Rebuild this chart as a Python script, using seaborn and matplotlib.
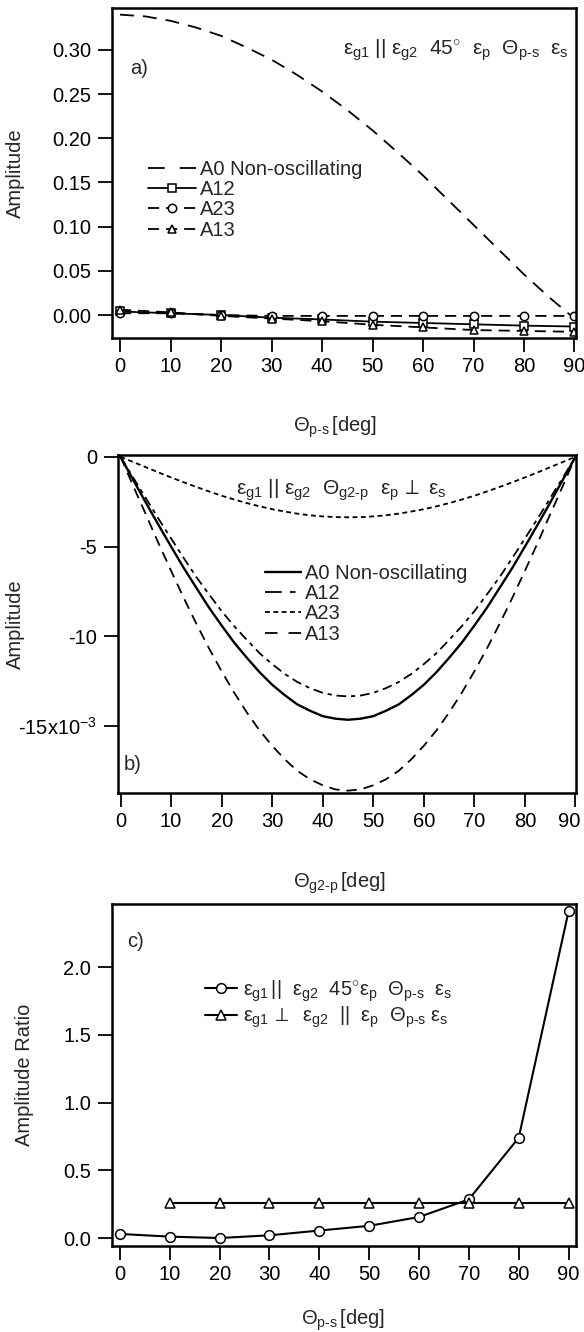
import matplotlib
matplotlib.use("Agg")
import matplotlib.pyplot as plt
import matplotlib.transforms as mtransforms
import seaborn as sns

# ---------------- data ----------------
# Panel a: amplitudes vs Theta_p-s
theta_a = [0, 10, 20, 30, 40, 50, 60, 70, 80, 90]
theta_a0 = [0, 5, 10, 15, 20, 25, 30, 35, 40, 45, 50, 55, 60, 65, 70, 75, 80, 85, 90]
a0_a = [0.340, 0.338, 0.333, 0.3255, 0.316, 0.303, 0.289, 0.272, 0.253, 0.232,
        0.209, 0.184, 0.158, 0.130, 0.102, 0.074, 0.046, 0.020, -0.004]
a12_a = [0.004, 0.002, 0.000, -0.003, -0.005, -0.0075, -0.009, -0.0105, -0.012, -0.013]
a23_a = [0.002, 0.002, 0.000, -0.001, -0.001, -0.001, -0.001, -0.001, -0.001, -0.001]
a13_a = [0.006, 0.003, -0.001, -0.004, -0.007, -0.011, -0.014, -0.017, -0.018, -0.019]

# Panel b: amplitudes (x1e-3) vs Theta_g2-p
theta_b = [0, 2.5, 5, 7.5, 10, 12.5, 15, 17.5, 20, 22.5, 25, 27.5, 30, 32.5, 35,
           37.5, 40, 42.5, 45, 47.5, 50, 52.5, 55, 57.5, 60, 62.5, 65, 67.5, 70,
           72.5, 75, 77.5, 80, 82.5, 85, 87.5, 90]
a0_b = [0, -1.28, -2.55, -3.79, -5.0, -6.19, -7.3, -8.40, -9.4, -10.36, -11.2,
        -12.0, -12.7, -13.28, -13.8, -14.15, -14.45, -14.59, -14.65, -14.59,
        -14.45, -14.15, -13.8, -13.28, -12.7, -12.0, -11.2, -10.36, -9.4, -8.40,
        -7.3, -6.19, -5.0, -3.79, -2.55, -1.28, 0]
a12_b = [0, -1.16, -2.3, -3.45, -4.55, -5.64, -6.7, -7.66, -8.6, -9.44, -10.2,
         -10.94, -11.55, -12.10, -12.55, -12.89, -13.15, -13.30, -13.35, -13.30,
         -13.15, -12.89, -12.55, -12.10, -11.55, -10.94, -10.2, -9.44, -8.6,
         -7.66, -6.7, -5.64, -4.55, -3.45, -2.3, -1.16, 0]
a23_b = [0, -0.29, -0.58, -0.87, -1.15, -1.42, -1.68, -1.93, -2.17, -2.38, -2.58,
         -2.76, -2.92, -3.05, -3.17, -3.26, -3.32, -3.36, -3.37, -3.36, -3.32,
         -3.26, -3.17, -3.05, -2.92, -2.76, -2.58, -2.38, -2.17, -1.93, -1.68,
         -1.42, -1.15, -0.87, -0.58, -0.29, 0]
a13_b = [0, -1.62, -3.2, -4.81, -6.35, -7.86, -9.3, -10.67, -11.95, -13.15,
         -14.25, -15.24, -16.1, -16.86, -17.5, -17.97, -18.3, -18.53, -18.6,
         -18.53, -18.3, -17.97, -17.5, -16.86, -16.1, -15.24, -14.25, -13.15,
         -11.95, -10.67, -9.3, -7.86, -6.35, -4.81, -3.2, -1.62, 0]

# Panel c: amplitude ratio vs Theta_p-s
theta_c = [0, 10, 20, 30, 40, 50, 60, 70, 80, 90]
ratio_par = [0.03, 0.01, 0.0, 0.02, 0.055, 0.09, 0.155, 0.285, 0.74, 2.41]
theta_c_perp = [10, 20, 30, 40, 50, 60, 70, 80, 90]
ratio_perp = [0.26, 0.26, 0.26, 0.26, 0.26, 0.26, 0.26, 0.26, 0.26]

xticks = [0, 10, 20, 30, 40, 50, 60, 70, 80, 90]

# ---------------- style ----------------
FS = 14.5
sns.set_style("ticks")
plt.rcParams.update({
    "font.family": ["Liberation Sans", "DejaVu Sans"],
    "font.size": FS,
    "axes.linewidth": 1.8,
    "axes.edgecolor": "black",
    "xtick.major.size": 10, "ytick.major.size": 10,
    "xtick.major.width": 1.3, "ytick.major.width": 1.3,
    "xtick.major.pad": 4, "ytick.major.pad": 5,
    "xtick.color": "black", "ytick.color": "black",
    "xtick.labelsize": FS, "ytick.labelsize": FS,
    "lines.scale_dashes": False,
    "mathtext.fontset": "custom",
    "mathtext.rm": "Liberation Sans",
    "mathtext.it": "Liberation Sans",
    "mathtext.bf": "Liberation Sans:bold",
    "mathtext.sf": "Liberation Sans",
})

W, H = 584, 1332
fig = plt.figure(figsize=(W / 100, H / 100), dpi=100)


def add_ax(l, t, r, b):
    return fig.add_axes([l / W, 1 - b / H, (r - l) / W, (b - t) / H])


axa = add_ax(112, 8, 576, 338)
axb = add_ax(118, 455, 576, 793)
axc = add_ax(112, 904, 576, 1246)

mk = dict(markerfacecolor="white", markeredgecolor="black", markeredgewidth=1.1)

# ---------------- panel a ----------------
sns.lineplot(x=theta_a0, y=a0_a, ax=axa, color="black", lw=1.3,
             linestyle=(0, (10, 6.5)), label="A0 Non-oscillating")
sns.lineplot(x=theta_a, y=a12_a, ax=axa, color="black", lw=1.3, marker="s",
             markersize=6, label="A12", **mk)
sns.lineplot(x=theta_a, y=a23_a, ax=axa, color="black", lw=1.3, marker="o",
             markersize=6, linestyle=(0, (8, 5)), label="A23", **mk)
sns.lineplot(x=theta_a, y=a13_a, ax=axa, color="black", lw=1.3, marker="^",
             markersize=6, linestyle=(0, (8, 5)), label="A13", **mk)
axa.set_xlim(-1.6, 90.3)
axa.set_ylim(-0.026, 0.3475)
axa.set_xticks(xticks)
axa.set_yticks([0.0, 0.05, 0.10, 0.15, 0.20, 0.25, 0.30])
axa.set_yticklabels(["0.00", "0.05", "0.10", "0.15", "0.20", "0.25", "0.30"])
axa.set_ylabel("Amplitude")
axa.yaxis.set_label_coords(-0.187, 0.5)
axa.set_xlabel(r"$\Theta_{p\text{-}s}\,$[deg]")
axa.xaxis.set_label_coords(0.48, -0.233)
lega = axa.legend(loc="upper left", bbox_to_anchor=(148 / W, 1 - 160 / H),
                  bbox_transform=fig.transFigure, frameon=False, borderpad=0,
                  handlelength=2.4, handletextpad=0.2, labelspacing=0.06,
                  borderaxespad=0, fontsize=FS)
lega.get_lines()[0].set_linestyle((0, (12, 10.8)))
axa.text(0.985, 0.873,
         r"$\varepsilon_{g1}\ ||\ \varepsilon_{g2}\ \ 45^{\circ}\ \ \varepsilon_{p}\ \ \Theta_{p\text{-}s}\ \ \varepsilon_{s}$",
         transform=axa.transAxes, ha="right", va="center", fontsize=FS + 0.5)
axa.text(0.039, 0.818, "a)", transform=axa.transAxes, ha="left", va="center",
         fontsize=FS)

# ---------------- panel b ----------------
sns.lineplot(x=theta_b, y=a0_b, ax=axb, color="black", lw=1.7,
             label="A0 Non-oscillating")
sns.lineplot(x=theta_b, y=a12_b, ax=axb, color="black", lw=1.3,
             linestyle=(0, (7, 3.5, 3, 3.5)), label="A12")
sns.lineplot(x=theta_b, y=a23_b, ax=axb, color="black", lw=1.3,
             linestyle=(0, (3.5, 2.5)), label="A23")
sns.lineplot(x=theta_b, y=a13_b, ax=axb, color="black", lw=1.3,
             linestyle=(0, (7.5, 5)), label="A13")
axb.set_xlim(-0.5, 90.1)
axb.set_ylim(-18.73, 0.1)
axb.set_xticks(xticks)
axb.set_yticks([0, -5, -10, -15])
axb.set_yticklabels(["0", "-5", "-10", "-15x10$^{-3}$"])
axb.set_ylabel("Amplitude")
axb.yaxis.set_label_coords(-0.203, 0.5)
axb.set_xlabel(r"$\Theta_{g2\text{-}p}\,$[deg]")
axb.xaxis.set_label_coords(0.484, -0.228)
legb = axb.legend(loc="upper left", bbox_to_anchor=(265 / W, 1 - 564 / H),
                  bbox_transform=fig.transFigure, frameon=False, borderpad=0,
                  handlelength=1.8, handletextpad=0.2, labelspacing=0.06,
                  borderaxespad=0, fontsize=FS)
legb.get_lines()[1].set_linestyle((0, (12, 6, 4, 4)))
legb.get_lines()[3].set_linestyle((0, (9, 8)))
axb.text(0.488, 0.896,
         r"$\varepsilon_{g1}\ ||\ \varepsilon_{g2}\ \ \Theta_{g2\text{-}p}\ \ \varepsilon_{p}\,\perp\ \varepsilon_{s}$",
         transform=axb.transAxes, ha="center", va="center", fontsize=FS + 0.5)
axb.text(0.013, 0.083, "b)", transform=axb.transAxes, ha="left", va="center",
         fontsize=FS)
# keep the last tick label of panel b inside the figure
fig.canvas.draw()
last = axb.get_xticklabels()[-1]
last.set_transform(last.get_transform() +
                   mtransforms.ScaledTranslation(-6 / 100, 0, fig.dpi_scale_trans))

# ---------------- panel c ----------------
sns.lineplot(x=theta_c, y=ratio_par, ax=axc, color="black", lw=1.5, marker="o",
             markersize=7,
             label=r"$\varepsilon_{g1}\,||\ \ \varepsilon_{g2}\ \ 45^{\circ}\varepsilon_{p}\ \ \Theta_{p\text{-}s}\ \ \varepsilon_{s}$",
             **mk)
sns.lineplot(x=theta_c_perp, y=ratio_perp, ax=axc, color="black", lw=1.5,
             marker="^", markersize=7,
             label=r"$\varepsilon_{g1}\,\perp\ \ \varepsilon_{g2}\ \ ||\ \ \varepsilon_{p}\ \ \Theta_{p\text{-}s}\ \varepsilon_{s}$",
             **mk)
axc.set_xlim(-1.6, 91.5)
axc.set_ylim(-0.059, 2.465)
axc.set_xticks(xticks)
axc.set_yticks([0.0, 0.5, 1.0, 1.5, 2.0])
axc.set_yticklabels(["0.0", "0.5", "1.0", "1.5", "2.0"])
axc.set_ylabel("Amplitude Ratio")
axc.yaxis.set_label_coords(-0.168, 0.5)
axc.set_xlabel(r"$\Theta_{p\text{-}s}\,$[deg]")
axc.xaxis.set_label_coords(0.497, -0.18)
axc.legend(loc="upper left", bbox_to_anchor=(205 / W, 1 - 978 / H),
           bbox_transform=fig.transFigure, frameon=False, borderpad=0,
           handlelength=1.6, handletextpad=0.3, labelspacing=0.05,
           borderaxespad=0, fontsize=FS)
axc.text(0.032, 0.889, "c)", transform=axc.transAxes, ha="left", va="center",
         fontsize=FS)

for ax in (axa, axb, axc):
    for s in ax.spines.values():
        s.set_visible(True)
        s.set_linewidth(1.8)
    ax.tick_params(top=False, right=False)

fig.savefig("out.png", dpi=100)
